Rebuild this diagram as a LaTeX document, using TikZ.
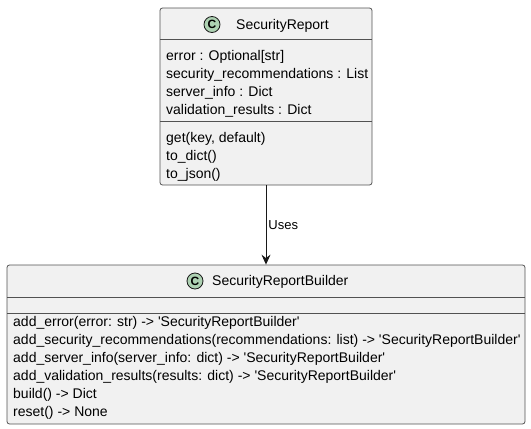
\documentclass[tikz,border=0pt]{standalone}
\usepackage{fontspec}
\setmainfont[Ligatures=TeXReset]{Liberation Sans}
\usetikzlibrary{arrows.meta}
\definecolor{boxfill}{HTML}{F1F1F1}
\definecolor{boxline}{HTML}{181818}
\definecolor{circfill}{HTML}{ADD1B2}
\begin{document}
\begin{tikzpicture}[x=1pt,y=-1pt,
  classbox/.style={draw=boxline!75,fill=boxfill,rounded corners=2.5pt,line width=0.8pt,inner sep=0pt},
  sepline/.style={draw=boxline!75,line width=0.8pt},
  member/.style={anchor=west,inner sep=0pt,font=\fontsize{14}{16}\selectfont,text=black,yshift=-1.5pt},
  cname/.style={anchor=west,inner sep=0pt,font=\fontsize{14}{16}\selectfont,text=black,yshift=-1pt},
  badge/.style={circle,draw=boxline,fill=circfill,line width=0.8pt,minimum size=16pt,inner sep=0pt,font=\fontsize{12}{12}\selectfont\bfseries},
  rel/.style={draw=boxline,line width=0.9pt,-{Stealth[length=10pt,width=9pt,inset=3.5pt]}},
  lbl/.style={anchor=west,inner sep=0pt,font=\fontsize{13}{15}\selectfont}
]
\useasboundingbox (0,0) rectangle (531,429);
% SecurityReport
\node[classbox,minimum width=212pt,minimum height=177pt] (rep) at (266,96.5) {};
\draw[sepline] (160,39) -- (372,39);
\draw[sepline] (160,121) -- (372,121);
\node[badge] (repc) at (212,24.5) {C};
\node[cname] (repn) at (236,24.5) {SecurityReport};
\node[member] (r1) at (166,55) {error : Optional[str]};
\node[member] (r2) at (166,73) {security\_recommendations : List};
\node[member] (r3) at (166,91) {server\_info : Dict};
\node[member] (r4) at (166,109) {validation\_results : Dict};
\node[member] (r5) at (166,137) {get(key, default)};
\node[member] (r6) at (166,155) {to\_dict()};
\node[member] (r7) at (166,173) {to\_json()};
% SecurityReportBuilder
\node[classbox,minimum width=518pt,minimum height=159pt] (bld) at (266,344.5) {};
\draw[sepline] (7,297) -- (525,297);
\draw[sepline] (7,313) -- (525,313);
\node[badge] (bldc) at (195,281) {C};
\node[cname] (bldn) at (212,281) {SecurityReportBuilder};
\node[member] (b1) at (13,321) {add\_error(error: str) -> 'SecurityReportBuilder'};
\node[member] (b2) at (13,339) {add\_security\_recommendations(recommendations: list) -> 'SecurityReportBuilder'};
\node[member] (b3) at (13,357) {add\_server\_info(server\_info: dict) -> 'SecurityReportBuilder'};
\node[member] (b4) at (13,375) {add\_validation\_results(results: dict) -> 'SecurityReportBuilder'};
\node[member] (b5) at (13,393) {build() -> Dict};
\node[member] (b6) at (13,411) {reset() -> None};
% relation
\draw[rel] (rep.south) -- node[lbl,pos=0.5,xshift=2pt] {Uses} (bld.north);
\end{tikzpicture}
\end{document}
